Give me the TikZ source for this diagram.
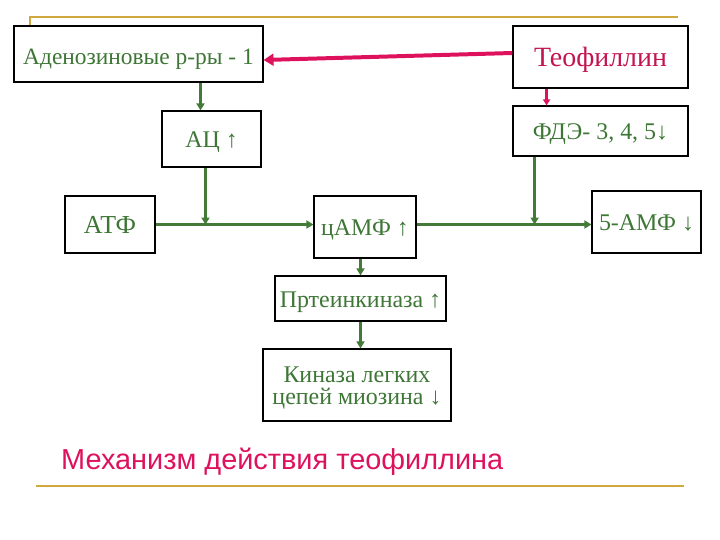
\documentclass[tikz,border=0pt]{standalone}
\usepackage{fontspec}
\setmainfont{Liberation Serif}
\newfontfamily\titlefont{Liberation Sans}
\usetikzlibrary{arrows.meta,calc}
\definecolor{gtext}{RGB}{62,118,54}
\definecolor{garr}{RGB}{68,122,56}
\definecolor{rcol}{RGB}{222,18,92}
\definecolor{rtext}{RGB}{196,20,80}
\definecolor{gold}{RGB}{208,168,62}
\tikzset{
  box/.style={draw=black, line width=1.2pt, fill=white, inner sep=0pt, text=gtext, font=\fontsize{24}{22}\selectfont, align=center},
  one/.style={text height=18pt, text depth=0pt},
  garrow/.style={draw=garr, line width=3bp, -{Triangle[length=7pt,width=8pt]}},
  rarrow/.style={draw=rcol, line width=4pt, -{Triangle[length=10pt,width=12pt]}},
  rsmall/.style={draw=rcol, line width=2.4pt, -{Triangle[length=6pt,width=7pt]}},
  goldline/.style={draw=gold, line width=2pt}
}
\begin{document}
\begin{tikzpicture}[x=1bp,y=-1bp]
\useasboundingbox (0,0) rectangle (720,540);
\draw[goldline] (30,26) -- (30,17) -- (678,17);
\draw[goldline] (36,486) -- (684,486);

\node[box, one, text height=21pt, minimum width=249bp, minimum height=56bp, font=\fontsize{23.5}{22}\selectfont] (aden) at (138.5,54) {Аденозиновые р-ры - 1};
\node[box, one, minimum width=99bp, minimum height=56bp] (ac) at (211.5,139) {АЦ ↑};
\node[box, one, text height=20pt, minimum width=175bp, minimum height=62bp, text=rtext, font=\fontsize{28}{30}\selectfont] (theo) at (600.5,57) {Теофиллин};
\node[box, one, minimum width=175bp, minimum height=50bp] (pde) at (600.5,131) {ФДЭ- 3, 4, 5↓};
\node[box, one, text height=19pt, minimum width=90bp, minimum height=57bp, font=\fontsize{26}{28}\selectfont] (atf) at (110,224.5) {АТФ};
\node[box, one, minimum width=102bp, minimum height=62bp] (camp) at (365,227) {цАМФ ↑};
\node[box, one, minimum width=109bp, minimum height=62bp] (amp5) at (646.5,222) {5-АМФ ↓};
\node[box, one, minimum width=171bp, minimum height=45bp] (pk) at (360.5,298.5) {Пртеинкиназа ↑};
\node[box, minimum width=188bp, minimum height=72bp] (kin) at (357,385) {};
\node[text=gtext, font=\fontsize{24}{22}\selectfont, align=center, inner sep=0pt] (kint) at ($(kin.center)+(0,3)$) {Киназа легких\\цепей миозина ↓};

\node[anchor=west, text=rcol, font=\titlefont\fontsize{29}{31}\selectfont, inner sep=0pt] (title) at (61,462) {Механизм действия теофиллина};

% red connectors
\draw[rarrow] ($(theo.west)+(0,-4)$) -- ($(aden.east)+(0,6)$);
\path ($(theo.south west)!0.194!(theo.south east)$) coordinate (r1);
\draw[rsmall] (r1) -- (r1 |- pde.north);

% green connectors
\path ($(ac.north west)!0.39!(ac.north east)$) coordinate (p1);
\draw[garrow] (aden.south -| p1) -- (p1);
\path ($(ac.south west)!0.44!(ac.south east)$) coordinate (p2);
\coordinate (hy) at (0,224.5);
\draw[garrow] (p2) -- (p2 |- hy);
\draw[garrow] (atf.east |- hy) -- (camp.west |- hy);
\draw[garrow] (camp.east |- hy) -- (amp5.west |- hy);
\path ($(pde.south west)!0.126!(pde.south east)$) coordinate (p3);
\draw[garrow] (p3) -- (p3 |- hy);
\draw[garrow] (pk.north |- camp.south) -- (pk.north);
\draw[garrow] (pk.south) -- (pk.south |- kin.north);
\end{tikzpicture}
\end{document}
